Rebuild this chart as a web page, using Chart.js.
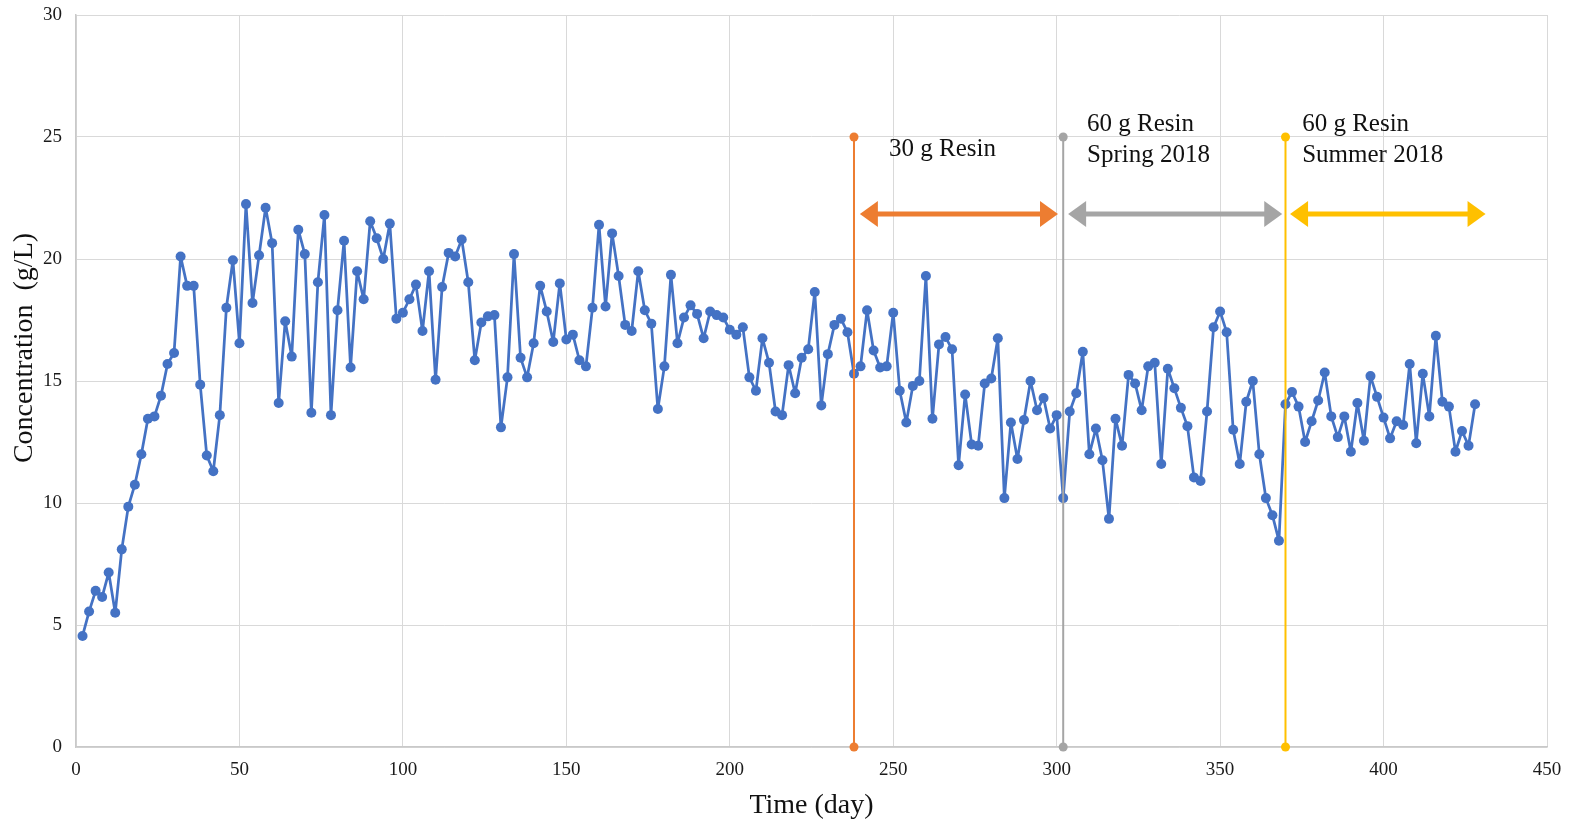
<!DOCTYPE html>
<html>
<head>
<meta charset="utf-8">
<title>Concentration over time</title>
<script src="https://cdn.jsdelivr.net/npm/chart.js@4.4.0/dist/chart.umd.min.js"></script>
<style>
  html, body { margin: 0; padding: 0; background: #fff; }
  #wrap { width: 1577px; height: 824px; position: relative; }
</style>
</head>
<body>
<div id="wrap"><canvas id="chartConc"></canvas></div>
<script>
// sampling days (every second day)
const DAYS = [
  2, 4, 6, 8, 10, 12, 14, 16, 18, 20,
  22, 24, 26, 28, 30, 32, 34, 36, 38, 40,
  42, 44, 46, 48, 50, 52, 54, 56, 58, 60,
  62, 64, 66, 68, 70, 72, 74, 76, 78, 80,
  82, 84, 86, 88, 90, 92, 94, 96, 98, 100,
  102, 104, 106, 108, 110, 112, 114, 116, 118, 120,
  122, 124, 126, 128, 130, 132, 134, 136, 138, 140,
  142, 144, 146, 148, 150, 152, 154, 156, 158, 160,
  162, 164, 166, 168, 170, 172, 174, 176, 178, 180,
  182, 184, 186, 188, 190, 192, 194, 196, 198, 200,
  202, 204, 206, 208, 210, 212, 214, 216, 218, 220,
  222, 224, 226, 228, 230, 232, 234, 236, 238, 240,
  242, 244, 246, 248, 250, 252, 254, 256, 258, 260,
  262, 264, 266, 268, 270, 272, 274, 276, 278, 280,
  282, 284, 286, 288, 290, 292, 294, 296, 298, 300,
  302, 304, 306, 308, 310, 312, 314, 316, 318, 320,
  322, 324, 326, 328, 330, 332, 334, 336, 338, 340,
  342, 344, 346, 348, 350, 352, 354, 356, 358, 360,
  362, 364, 366, 368, 370, 372, 374, 376, 378, 380,
  382, 384, 386, 388, 390, 392, 394, 396, 398, 400,
  402, 404, 406, 408, 410, 412, 414, 416, 418, 420,
  422, 424, 426, 428,
];

// concentration in g/L
const CONC = [
  4.55, 5.55, 6.4, 6.15, 7.15, 5.5, 8.1, 9.85, 10.75, 12.0,
  13.45, 13.55, 14.4, 15.7, 16.15, 20.1, 18.9, 18.9, 14.85, 11.95,
  11.3, 13.6, 18.0, 19.95, 16.55, 22.25, 18.2, 20.15, 22.1, 20.65,
  14.1, 17.45, 16.0, 21.2, 20.2, 13.7, 19.05, 21.8, 13.6, 17.9,
  20.75, 15.55, 19.5, 18.35, 21.55, 20.85, 20.0, 21.45, 17.55, 17.8,
  18.35, 18.95, 17.05, 19.5, 15.05, 18.85, 20.25, 20.1, 20.8, 19.05,
  15.85, 17.4, 17.65, 17.7, 13.1, 15.15, 20.2, 15.95, 15.15, 16.55,
  18.9, 17.85, 16.6, 19.0, 16.7, 16.9, 15.85, 15.6, 18.0, 21.4,
  18.05, 21.05, 19.3, 17.3, 17.05, 19.5, 17.9, 17.35, 13.85, 15.6,
  19.35, 16.55, 17.6, 18.1, 17.75, 16.75, 17.85, 17.7, 17.6, 17.1,
  16.9, 17.2, 15.15, 14.6, 16.75, 15.75, 13.75, 13.6, 15.65, 14.5,
  15.95, 16.3, 18.65, 14.0, 16.1, 17.3, 17.55, 17.0, 15.3, 15.6,
  17.9, 16.25, 15.55, 15.6, 17.8, 14.6, 13.3, 14.8, 15.0, 19.3,
  13.45, 16.5, 16.8, 16.3, 11.55, 14.45, 12.4, 12.35, 14.9, 15.1,
  16.75, 10.2, 13.3, 11.8, 13.4, 15.0, 13.8, 14.3, 13.05, 13.6,
  10.2, 13.75, 14.5, 16.2, 12.0, 13.05, 11.75, 9.35, 13.45, 12.35,
  15.25, 14.9, 13.8, 15.6, 15.75, 11.6, 15.5, 14.7, 13.9, 13.15,
  11.05, 10.9, 13.75, 17.2, 17.85, 17.0, 13.0, 11.6, 14.15, 15.0,
  12.0, 10.2, 9.5, 8.45, 14.05, 14.55, 13.95, 12.5, 13.35, 14.2,
  15.35, 13.55, 12.7, 13.55, 12.1, 14.1, 12.55, 15.2, 14.35, 13.5,
  12.65, 13.35, 13.2, 15.7, 12.45, 15.3, 13.55, 16.85, 14.15, 13.95,
  12.1, 12.95, 12.35, 14.05,
];

// resin periods: start day of each period, marker line height, arrow span
const PERIOD_START = [238, 302, 370];
const PERIOD_TOP = [25, 25, 25];
const ARROW_FROM = [239.8, 303.5, 371.4];
const ARROW_TO = [300.4, 369, 431.2];
const ARROW_LEVEL = [21.84, 21.84, 21.84];
const PERIOD_LABELS = [["30 g Resin"], ["60 g Resin", "Spring 2018"], ["60 g Resin", "Summer 2018"]];

const X_TICKS = [0, 50, 100, 150, 200, 250, 300, 350, 400, 450];
const Y_TICKS = [0, 5, 10, 15, 20, 25, 30];
const Y_TITLE = "Concentration  (g/L)";

const PERIOD_COLORS = ["#ED7D31", "#A5A5A5", "#FFC000"];
const SERIES_COLOR = "#4472C4";
const SERIF = "'Liberation Serif', 'Times New Roman', serif";

// where the label block of each period sits (day of left edge, value of first line)
const LABEL_POS = [
  { x: 248.7, y: 24.5 },
  { x: 309.3, y: 25.52 },
  { x: 375.1, y: 25.52 },
];
const LABEL_LINE_STEP = 1.28;

const periodArrows = {
  id: "periodArrows",
  afterDatasetsDraw(chart) {
    const { ctx, scales } = chart;
    const xs = scales.x, ys = scales.y;
    ctx.save();
    for (let i = 0; i < PERIOD_START.length; i++) {
      const x1 = xs.getPixelForValue(ARROW_FROM[i]);
      const x2 = xs.getPixelForValue(ARROW_TO[i]);
      const y = ys.getPixelForValue(ARROW_LEVEL[i]);
      const head = 18, half = 13;
      ctx.fillStyle = PERIOD_COLORS[i];
      ctx.strokeStyle = PERIOD_COLORS[i];
      ctx.lineWidth = 5;
      ctx.beginPath();
      ctx.moveTo(x1 + head - 1, y);
      ctx.lineTo(x2 - head + 1, y);
      ctx.stroke();
      ctx.beginPath();
      ctx.moveTo(x1, y);
      ctx.lineTo(x1 + head, y - half);
      ctx.lineTo(x1 + head, y + half);
      ctx.closePath();
      ctx.fill();
      ctx.beginPath();
      ctx.moveTo(x2, y);
      ctx.lineTo(x2 - head, y - half);
      ctx.lineTo(x2 - head, y + half);
      ctx.closePath();
      ctx.fill();
    }

    ctx.fillStyle = "#111";
    ctx.font = "25px " + SERIF;
    ctx.textAlign = "left";
    ctx.textBaseline = "middle";
    PERIOD_LABELS.forEach((lines, i) => {
      const px = xs.getPixelForValue(LABEL_POS[i].x);
      lines.forEach((txt, j) => {
        const py = ys.getPixelForValue(LABEL_POS[i].y - j * LABEL_LINE_STEP);
        ctx.fillText(txt, px, py);
      });
    });

    // y axis title, set a little above the middle of the axis
    ctx.translate(25, 348);
    ctx.rotate(-Math.PI / 2);
    ctx.font = "28px " + SERIF;
    ctx.textAlign = "center";
    ctx.fillText(Y_TITLE, 0, 0);
    ctx.restore();
  },
};

const datasets = [
  {
    data: DAYS.map((d, i) => ({ x: d, y: CONC[i] })),
    showLine: true,
    borderColor: SERIES_COLOR,
    backgroundColor: SERIES_COLOR,
    borderWidth: 2.75,
    borderJoinStyle: "round",
    borderCapStyle: "round",
    pointRadius: 5,
    pointBorderWidth: 0,
    tension: 0,
    order: 2,
    clip: false,
  },
];
PERIOD_START.forEach((d, i) => {
  datasets.push({
    data: [{ x: d, y: 0 }, { x: d, y: PERIOD_TOP[i] }],
    showLine: true,
    borderColor: PERIOD_COLORS[i],
    backgroundColor: PERIOD_COLORS[i],
    borderWidth: 2,
    pointRadius: 4.5,
    pointBorderWidth: 0,
    order: 1,
    clip: false,
  });
});

const tickFont = { family: SERIF, size: 19 };

new Chart(document.getElementById("chartConc"), {
  type: "scatter",
  data: { datasets },
  plugins: [periodArrows],
  options: {
    responsive: true,
    maintainAspectRatio: false,
    animation: false,
    events: [],
    layout: { padding: { top: 15, right: 30, left: 0, bottom: 0 } },
    plugins: {
      legend: { display: false },
      tooltip: { enabled: false },
    },
    scales: {
      x: {
        type: "linear",
        min: 0,
        max: 450,
        afterBuildTicks: (s) => { s.ticks = X_TICKS.map((v) => ({ value: v })); },
        afterFit: (s) => {
          s.height = 77;
          s.paddingLeft = 0;
          s.paddingRight = 0;
        },
        ticks: { font: tickFont, color: "#1a1a1a", padding: 12, maxRotation: 0 },
        grid: { color: "#D9D9D9", lineWidth: 1, drawTicks: false },
        border: { color: "#C9C9C9", width: 1.5 },
        title: {
          display: true,
          text: "Time (day)",
          font: { family: SERIF, size: 28 },
          color: "#111",
          padding: { top: 0, bottom: 2 },
        },
      },
      y: {
        type: "linear",
        min: 0,
        max: 30,
        afterBuildTicks: (s) => { s.ticks = Y_TICKS.map((v) => ({ value: v })); },
        afterFit: (s) => {
          s.width = 76;
          s.paddingTop = 0;
          s.paddingBottom = 0;
        },
        ticks: { font: tickFont, color: "#1a1a1a", padding: 14 },
        grid: { color: "#D9D9D9", lineWidth: 1, drawTicks: false },
        border: { color: "#C9C9C9", width: 1.5 },
      },
    },
  },
});
</script>
</body>
</html>
